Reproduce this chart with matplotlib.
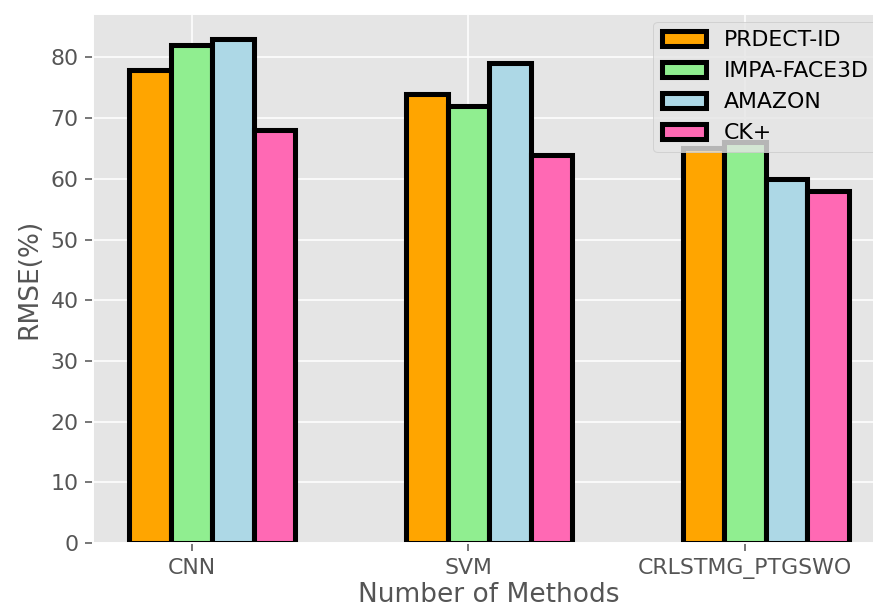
import matplotlib
matplotlib.use("Agg")
import matplotlib.pyplot as plt
import numpy as np

plt.style.use("ggplot")
plt.rcParams["font.size"] = 11.3
plt.rcParams["xtick.major.size"] = 4
plt.rcParams["ytick.major.size"] = 4

methods = ["CNN", "SVM", "CRLSTMG_PTGSWO"]
datasets = ["PRDECT-ID", "IMPA-FACE3D", "AMAZON", "CK+"]
prdect_id = [78, 74, 65]
impa_face3d = [82, 72, 66]
amazon = [83, 79, 60]
ck_plus = [68, 64, 58]
colors = ["orange", "lightgreen", "lightblue", "hotpink"]

series = [prdect_id, impa_face3d, amazon, ck_plus]

dpi = 140
fig = plt.figure(figsize=(873 / dpi, 608 / dpi), dpi=dpi)
ax = fig.add_axes([93.3 / 873, 65 / 608, (885 - 93.3) / 873, (594 - 65) / 608])

x = np.arange(len(methods))
w = 0.15
offsets = [-1, 0, 1, 2]
for vals, name, c, o in zip(series, datasets, colors, offsets):
    ax.bar(x + o * w, vals, w, color=c, edgecolor="black", linewidth=2.6, label=name)

ax.set_xticks(x)
ax.set_xticklabels(methods)
ax.set_xlabel("Number of Methods", labelpad=2)
ax.set_ylabel("RMSE(%)")
ax.legend(loc="upper right", borderaxespad=0.35)

fig.savefig("out.png", dpi=dpi)
